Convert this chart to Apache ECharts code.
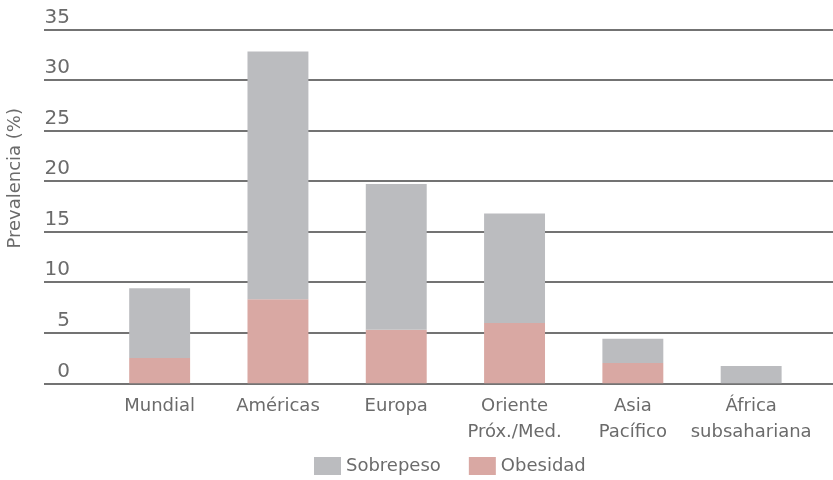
<!DOCTYPE html>
<html>
<head>
<meta charset="utf-8">
<script src="https://cdn.jsdelivr.net/npm/echarts@6/dist/echarts.min.js"></script>
<style>html,body{margin:0;padding:0;background:#fff}#c{width:833px;height:480px}</style>
</head>
<body>
<div id="c"></div>
<script>
var categories = ['Mundial', 'Américas', 'Europa', 'Oriente\nPróx./Med.', 'Asia\nPacífico', 'África\nsubsahariana'];
var obesidad = [2.5, 8.3, 5.3, 5.95, 2.0, 0];
var sobrepeso = [6.9, 24.5, 14.4, 10.85, 2.4, 1.7];
var yTicks = [0, 5, 10, 15, 20, 25, 30, 35];

var FONT = '"DejaVu Sans", sans-serif';
var TXT = '#6b6b6b';
var chart = echarts.init(document.getElementById('c'), null, {renderer: 'canvas'});
chart.setOption({
  animation: false,
  backgroundColor: '#fff',
  textStyle: {fontFamily: FONT},
  color: ['#bbbcbf', '#d9a8a3'],
  legend: {
    data: ['Sobrepeso', 'Obesidad'],
    top: 452,
    left: 309,
    icon: 'rect',
    itemWidth: 27,
    itemHeight: 18,
    itemGap: 28,
    textStyle: {color: TXT, fontSize: 18, fontFamily: FONT}
  },
  graphic: [{
    type: 'text',
    left: 6, top: 108,
    rotation: Math.PI / 2,
    style: {text: 'Prevalencia (%)', fill: TXT, font: '18px ' + FONT}
  }],
  grid: [
    {left: 44, right: 0, top: 29.3, bottom: 96.7},
    {left: 100.5, right: 22.7, top: 29.3, bottom: 96.7}
  ],
  xAxis: [
    {type: 'value', gridIndex: 0, show: false, min: 0, max: 1},
    {type: 'category', gridIndex: 1, data: categories,
     axisLine: {show: false}, axisTick: {show: false},
     axisLabel: {interval: 0, color: TXT, fontSize: 18, fontFamily: FONT, margin: 10, lineHeight: 26}}
  ],
  yAxis: [
    {type: 'value', gridIndex: 0, min: 0, max: 35, interval: 5,
     axisLine: {show: false}, axisTick: {show: false},
     splitLine: {show: true, lineStyle: {color: '#444', width: 1.5}},
     axisLabel: {inside: false, align: 'right', verticalAlign: 'bottom', margin: -26,
       color: TXT, fontSize: 20, fontFamily: FONT, lineHeight: 20, padding: [0, 0, 2, 0],
       formatter: function (v) { return yTicks.indexOf(v) >= 0 ? String(v) : ''; }}},
    {type: 'value', gridIndex: 1, min: 0, max: 35, interval: 5, show: false, splitLine: {show: false}}
  ],
  series: [
    {name: 'Obesidad', type: 'bar', stack: 's', xAxisIndex: 1, yAxisIndex: 1, barWidth: '51.5%',
     itemStyle: {color: '#d9a8a3'}, data: obesidad},
    {name: 'Sobrepeso', type: 'bar', stack: 's', xAxisIndex: 1, yAxisIndex: 1, barWidth: '51.5%',
     itemStyle: {color: '#bbbcbf'}, data: sobrepeso}
  ]
});
</script>
</body>
</html>
